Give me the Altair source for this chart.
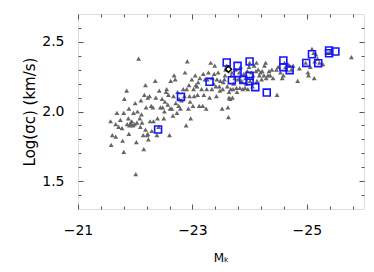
import altair as alt
import pandas as pd

# Gray triangles: (M_K, log sigma_c)
tri_mk = [-21.57, -21.66, -21.68, -21.58, -21.60, -21.66, -21.71, -21.74, -21.77, -21.78,
          -21.80, -21.80, -21.81, -21.85, -21.86, -21.88, -21.89, -21.89, -21.90, -21.92,
          -21.93, -21.94, -21.96, -21.97, -21.99, -22.00, -22.01, -22.02, -22.03, -22.04,
          -22.06, -22.08, -22.09, -22.10, -22.11, -22.12, -22.14, -22.15, -22.16, -22.18,
          -22.18, -22.19, -22.21, -22.22, -22.22, -22.23, -22.25, -22.26, -22.28, -22.29,
          -22.31, -22.32, -22.35, -22.36, -22.38, -22.39, -22.41, -22.42, -22.44, -22.47,
          -22.48, -22.50, -22.51, -22.52, -22.54, -22.55, -22.57, -22.58, -22.60, -22.61,
          -22.62, -22.64, -22.66, -22.67, -22.68, -22.70, -22.71, -22.73, -22.74, -22.76,
          -22.77, -22.79, -22.81, -22.84, -22.86, -22.87, -22.89, -22.90, -22.91, -22.93,
          -22.94, -22.95, -22.96, -22.97, -22.99, -23.01, -23.02, -23.03, -23.05, -23.06,
          -23.08, -23.09, -23.10, -23.12, -23.13, -23.16, -23.18, -23.19, -23.20, -23.22,
          -23.24, -23.25, -23.26, -23.28, -23.30, -23.32, -23.34, -23.35, -23.37, -23.38,
          -23.39, -23.41, -23.42, -23.43, -23.45, -23.47, -23.48, -23.49, -23.52, -23.53,
          -23.54, -23.56, -23.57, -23.58, -23.60, -23.61, -23.62, -23.63, -23.64, -23.64,
          -23.66, -23.67, -23.68, -23.69, -23.70, -23.71, -23.72, -23.74, -23.75, -23.77,
          -23.78, -23.80, -23.82, -23.83, -23.84, -23.86, -23.88, -23.90, -23.92, -23.93,
          -23.94, -23.96, -23.97, -23.99, -24.00, -24.01, -24.03, -24.05, -24.06, -24.08,
          -24.11, -24.12, -24.13, -24.15, -24.17, -24.19, -24.21, -24.22, -24.25, -24.26,
          -24.28, -24.29, -24.32, -24.34, -24.36, -24.39, -24.41, -24.47, -24.48, -24.50,
          -24.54, -24.57, -24.59, -24.61, -24.63, -24.65, -24.67, -24.70, -24.73, -24.76,
          -24.84, -24.87, -24.98, -25.02, -25.03, -25.06, -25.09, -25.12, -25.13, -25.14,
          -25.16, -25.19, -25.22, -25.28, -25.37, -25.41, -25.78]
tri_sig = [1.93, 1.91, 1.99, 1.76, 1.83, 1.82, 1.89, 1.94, 1.88, 1.79,
           1.71, 1.99, 2.09, 2.15, 1.91, 1.95, 2.02, 1.84, 1.90, 1.92,
           1.91, 1.93, 1.90, 1.99, 1.91, 2.06, 1.55, 1.78, 1.92, 2.00,
           2.38, 1.95, 1.89, 2.08, 1.98, 1.92, 1.83, 1.73, 2.12, 2.19,
           1.87, 2.03, 1.83, 2.10, 1.84, 1.80, 2.11, 1.93, 2.04, 1.86,
           2.03, 1.93, 2.22, 2.10, 1.83, 1.95, 1.89, 2.15, 2.03, 2.09,
           2.03, 1.95, 2.00, 2.07, 2.14, 2.16, 2.05, 2.12, 1.83, 2.02,
           2.22, 2.02, 1.97, 2.11, 2.26, 2.23, 2.06, 1.99, 2.14, 2.04,
           2.09, 2.02, 2.08, 2.16, 2.11, 2.28, 1.90, 2.16, 2.36, 2.02,
           2.19, 2.11, 2.07, 1.95, 2.23, 2.04, 2.16, 2.11, 2.26, 2.19,
           2.18, 2.12, 2.21, 2.04, 2.24, 2.16, 2.04, 2.27, 2.12, 2.23,
           2.02, 2.16, 2.23, 2.28, 2.10, 2.35, 2.16, 2.24, 2.20, 2.27,
           2.33, 2.18, 2.11, 2.23, 2.28, 2.18, 2.15, 2.22, 2.02, 2.16,
           2.21, 2.23, 2.26, 2.30, 2.33, 2.18, 2.03, 1.96, 2.14, 2.10,
           2.09, 2.16, 2.26, 2.28, 2.10, 2.16, 2.20, 2.24, 2.30, 2.17,
           2.14, 2.23, 2.28, 2.17, 2.32, 2.22, 2.16, 2.27, 2.17, 2.24,
           2.20, 2.29, 2.16, 2.32, 2.35, 2.22, 2.28, 2.18, 2.26, 2.33,
           2.29, 2.35, 2.22, 2.30, 2.26, 2.28, 2.23, 2.29, 2.26, 2.33,
           2.35, 2.24, 2.26, 2.29, 2.26, 2.30, 2.24, 2.30, 2.12, 2.32,
           2.28, 2.24, 2.26, 2.35, 2.32, 2.30, 2.34, 2.33, 2.30, 2.33,
           2.22, 2.31, 2.35, 2.28, 2.26, 2.32, 2.45, 2.42, 2.24, 2.36,
           2.41, 2.38, 2.35, 2.34, 2.42, 2.43, 2.39]

# Blue open squares
sq_mk = [-22.40, -22.80, -23.30, -23.60, -23.79, -23.79, -23.69, -23.89, -24.00, -24.00,
         -24.00, -24.10, -24.30, -24.59, -24.59, -24.70, -24.99, -25.09, -25.20, -25.39,
         -25.39, -25.50]
sq_sig = [1.871, 2.105, 2.213, 2.352, 2.328, 2.275, 2.225, 2.227, 2.359, 2.256,
          2.218, 2.175, 2.136, 2.366, 2.318, 2.297, 2.349, 2.411, 2.347, 2.438,
          2.418, 2.431]

# Black open diamond
dia_mk = [-23.63]
dia_sig = [2.304]

x_major = [-21, -23, -25]
x_ticks = [-21.0, -21.4, -21.8, -22.2, -22.6, -23.0, -23.4, -23.8, -24.2, -24.6,
           -25.0, -25.4, -25.8]
y_major = [1.5, 2.0, 2.5]
y_ticks = [1.4, 1.5, 1.6, 1.7, 1.8, 1.9, 2.0, 2.1, 2.2, 2.3, 2.4, 2.5, 2.6]

W, H = 286, 195
FONT = "DejaVu Sans"
FRAME = "#555555"

tri = pd.DataFrame({"mk": tri_mk, "s": tri_sig})
sq = pd.DataFrame({"mk": sq_mk, "s": sq_sig})
dia = pd.DataFrame({"mk": dia_mk, "s": dia_sig})

xs = alt.Scale(domain=[-26, -21], reverse=True, nice=False, zero=False)
ys = alt.Scale(domain=[1.3, 2.7], nice=False, zero=False)

x_tick_size = {"condition": {"test": "abs(datum.value - round(datum.value)) < 0.01", "value": 5}, "value": 3}
y_tick_size = {"condition": {"test": "abs(datum.value * 2 - round(datum.value * 2)) < 0.01", "value": 5}, "value": 3}

def tick_axis(orient, offset, values, size):
    return alt.Axis(orient=orient, offset=offset, values=values, tickSize=size,
                    ticks=True, labels=False, domain=False, grid=False, title=None,
                    tickColor=FRAME, tickWidth=1)

base_tri = alt.Chart(tri).mark_point(shape="triangle-up", filled=True, size=24,
                                     color="#666666", opacity=1).encode(
    x=alt.X("mk:Q", scale=xs, axis=alt.Axis(
        orient="bottom", values=x_major, format="d", ticks=False, domain=False, grid=False,
        labelFlush=False, labelFont=FONT, labelFontSize=14, labelColor="#000000",
        labelPadding=14, title="Mₖ", titleFont=FONT, titleFontSize=12,
        titleFontWeight="normal", titleColor="#000000", titlePadding=15)),
    y=alt.Y("s:Q", scale=ys, axis=alt.Axis(
        orient="left", values=y_major, format=".1f", ticks=False, domain=False, grid=False,
        labelFlush=False, labelFont=FONT, labelFontSize=14, labelColor="#000000",
        labelPadding=14, title="Log(σc) (km/s)", titleFont=FONT, titleFontSize=15,
        titleFontWeight="normal", titleColor="#000000", titlePadding=4)),
)

sq_layer = alt.Chart(sq).mark_point(shape="square", filled=False, size=48,
                                     strokeWidth=1.6, color="#1414ff", opacity=1).encode(
    x=alt.X("mk:Q", scale=xs, axis=tick_axis("top", -H, x_ticks, x_tick_size)),
    y=alt.Y("s:Q", scale=ys, axis=tick_axis("right", -W, y_ticks, y_tick_size)),
)

dia_layer = alt.Chart(dia).mark_point(shape="diamond", filled=False, size=40,
                                      strokeWidth=1.5, color="#000000", opacity=1).encode(
    x=alt.X("mk:Q", scale=xs, axis=tick_axis("bottom", -H, x_ticks, x_tick_size)),
    y=alt.Y("s:Q", scale=ys, axis=tick_axis("left", -W, y_ticks, y_tick_size)),
)

chart = alt.layer(base_tri, sq_layer, dia_layer).resolve_axis(
    x="independent", y="independent"
).properties(
    width=W, height=H,
    autosize=alt.AutoSizeParams(type="none"),
    padding={"left": 70, "top": 6, "right": 2, "bottom": 58},
).configure_view(
    stroke=FRAME, strokeWidth=1
).configure(background="white")

chart.save("out.html", embed_options={"renderer": "svg", "actions": False})
